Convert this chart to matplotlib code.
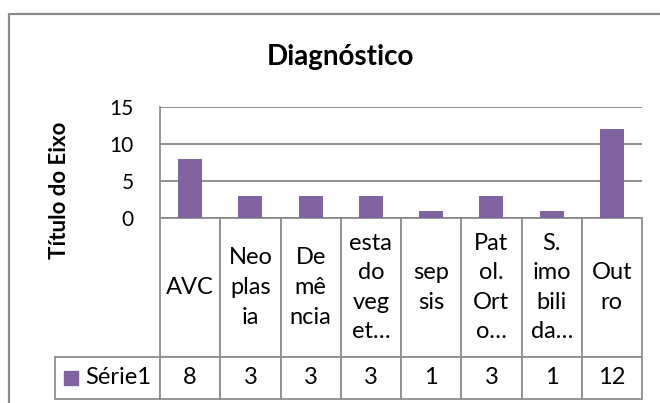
import matplotlib
matplotlib.use('Agg')
import matplotlib.pyplot as plt
from matplotlib.patches import Rectangle

# ---- data ----
categories = ["AVC", "Neo\nplas\nia", "De\nmê\nncia", "esta\ndo\nveg\net…",
              "sep\nsis", "Pat\nol.\nOrt\no…", "S.\nimo\nbili\nda…", "Out\nro"]
values = [8, 3, 3, 3, 1, 3, 1, 12]
series_name = "Série1"
yticks = [0, 5, 10, 15]
title = "Diagnóstico"
ylabel = "Título do Eixo"

# ---- style ----
PURPLE = '#8064A2'
GRID = '#868686'
EDGE = '#8f8f8f'
plt.rcParams['font.family'] = ['Lato', 'DejaVu Sans']

W, H = 660, 403
fig = plt.figure(figsize=(W / 100, H / 100), dpi=100)

# plot area (pixels)
L, R, T, B = 160, 642, 107, 218
ax_w, ax_h = R - L, B - T
ax = fig.add_axes([L / W, 1 - B / H, ax_w / W, ax_h / H])

n = len(values)
ax.bar(range(n), values, width=0.4, color=PURPLE, zorder=3)
ax.set_xlim(-0.5, n - 0.5)
ax.set_ylim(0, 15)
ax.set_yticks(yticks)
ax.set_xticks([])
ax.yaxis.grid(True, color=GRID, lw=1.3, zorder=0)
for s in ['top', 'right', 'bottom']:
    ax.spines[s].set_visible(False)
ax.spines['left'].set_color(EDGE)
ax.spines['left'].set_linewidth(1.3)
ax.tick_params(axis='y', length=0, pad=19, labelsize=15)

# ---- data table ----
col_px = ax_w / n
rowlab_px = 105
hdr_px = 139
row_px = 41.5
tot = hdr_px + row_px
tbl = ax.table(cellText=[[str(v) for v in values]],
               rowLabels=[series_name],
               colLabels=categories,
               colWidths=[col_px / ax_w] * n,
               cellLoc='center', rowLoc='right',
               bbox=[0, -tot / ax_h, 1, tot / ax_h])
tbl._autoColumns = []
tbl.auto_set_font_size(False)
tbl.set_fontsize(17)
for (r, c), cell in tbl.get_celld().items():
    cell.set_edgecolor(EDGE)
    cell.set_linewidth(1.3)
    cell.set_height((hdr_px if r == 0 else row_px) / ax_h)
    cell.get_text().set_linespacing(1.5)
    if c == -1:
        cell.set_width(rowlab_px / ax_w)
        cell.PAD = 0.08

# legend key in the row label cell
ax.plot([(71 - L) / ax_w], [(B - 378) / ax_h], marker='s', ms=9.5, color=PURPLE,
        transform=ax.transAxes, clip_on=False, ls='none')

# ---- titles ----
fig.text(340 / W, 1 - 65 / H, title, ha='center', va='baseline',
         fontsize=20, fontweight='bold')
fig.text(60 / W, 1 - 190 / H, ylabel, ha='center', va='center', rotation=90,
         fontsize=16, fontweight='bold')

# outer chart frame (extends past the image at right/bottom)
fig.add_artist(Rectangle((9 / W, -0.2), 1.2, 1.2 - 14 / H, transform=fig.transFigure,
                         fill=False, ec='#8a8a8a', lw=1.6))

fig.savefig('out.png', dpi=100)
